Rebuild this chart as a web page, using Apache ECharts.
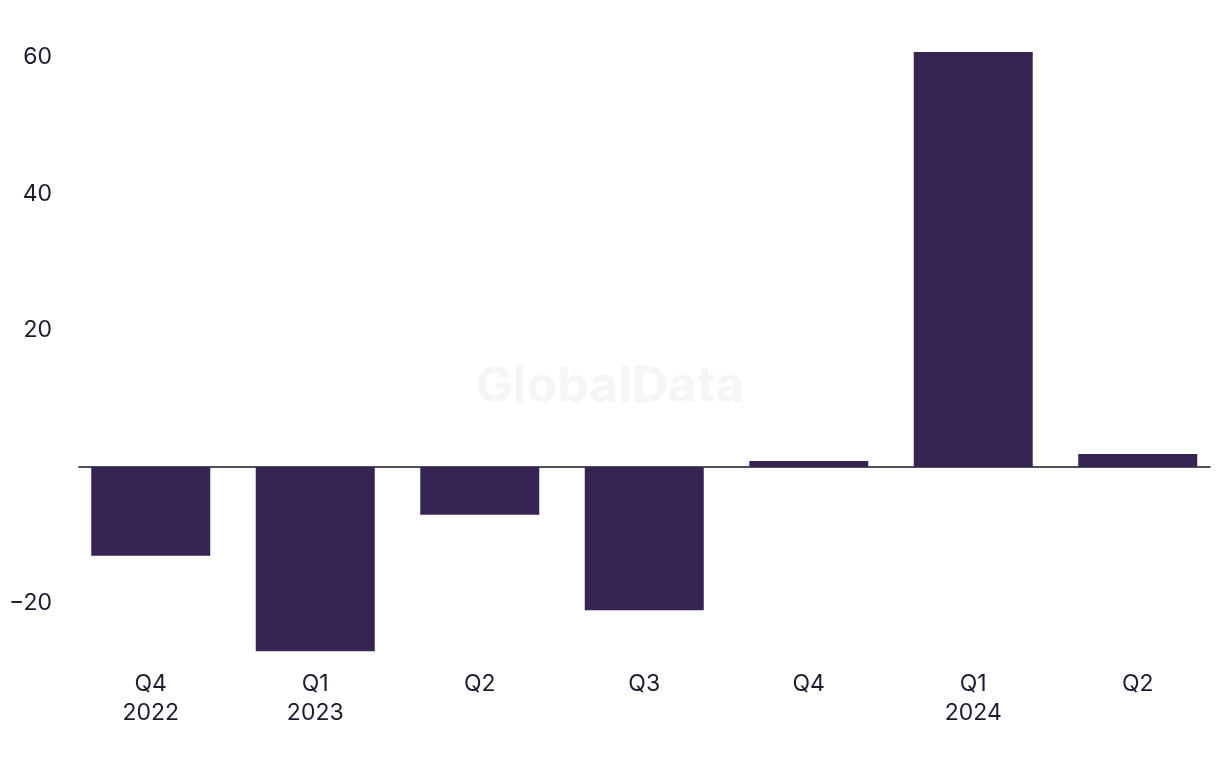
<!DOCTYPE html>
<html>
<head>
<meta charset="utf-8">
<script src="https://cdn.jsdelivr.net/npm/echarts@6/dist/echarts.min.js"></script>
<style>html,body{margin:0;padding:0;background:#fff}#c{width:1220px;height:778px}</style>
</head>
<body>
<div id="c"></div>
<script>
const categories = ['Q4\n2022', 'Q1\n2023', 'Q2', 'Q3', 'Q4', 'Q1\n2024', 'Q2'];
const values = [-13.0, -27.0, -7.0, -21.0, 0.9, 60.8, 1.9];
const yTicks = [-20, 20, 40, 60];

const chart = echarts.init(document.getElementById('c'), null, {renderer: 'canvas'});
const font = 'Inter, "Liberation Sans", sans-serif';
const yMin = -27, yMax = 61;
chart.setOption({
  backgroundColor: '#ffffff',
  animation: false,
  graphic: [{
    type: 'text', left: 'center', top: 362, z: 0,
    style: {text: 'GlobalData', font: 'bold 50px ' + font, fill: '#f5f5f5'}
  }],
  grid: [
    {left: 79, right: 10, top: 50.7, bottom: 126.7},
    {left: 68.5, right: -2.5, top: 50.7, bottom: 126.7}
  ],
  xAxis: [
    {type: 'category', gridIndex: 0, data: categories,
     axisLine: {onZero: true, lineStyle: {color: '#16162a', width: 1.5}},
     axisTick: {show: false}, axisLabel: {show: false}, splitLine: {show: false}},
    {type: 'category', gridIndex: 1, data: categories, position: 'bottom',
     axisLine: {show: false}, axisTick: {show: false}, splitLine: {show: false},
     axisLabel: {color: '#1c1c30', fontFamily: font, fontSize: 23, lineHeight: 29, margin: 18, interval: 0}}
  ],
  yAxis: [
    {type: 'value', gridIndex: 0, min: yMin, max: yMax,
     axisLine: {show: false}, axisTick: {show: false}, splitLine: {show: false},
     axisLabel: {customValues: yTicks, color: '#1c1c30', fontFamily: font, fontSize: 23, margin: 27,
       formatter: v => (v < 0 ? '\u2212' + Math.abs(v) : String(v))}},
    {type: 'value', gridIndex: 1, min: yMin, max: yMax, show: false,
     splitLine: {show: false}}
  ],
  series: [{
    type: 'bar', xAxisIndex: 1, yAxisIndex: 1, data: values, barWidth: 119,
    itemStyle: {color: '#362553'}, z: 1
  }]
});
</script>
</body>
</html>
